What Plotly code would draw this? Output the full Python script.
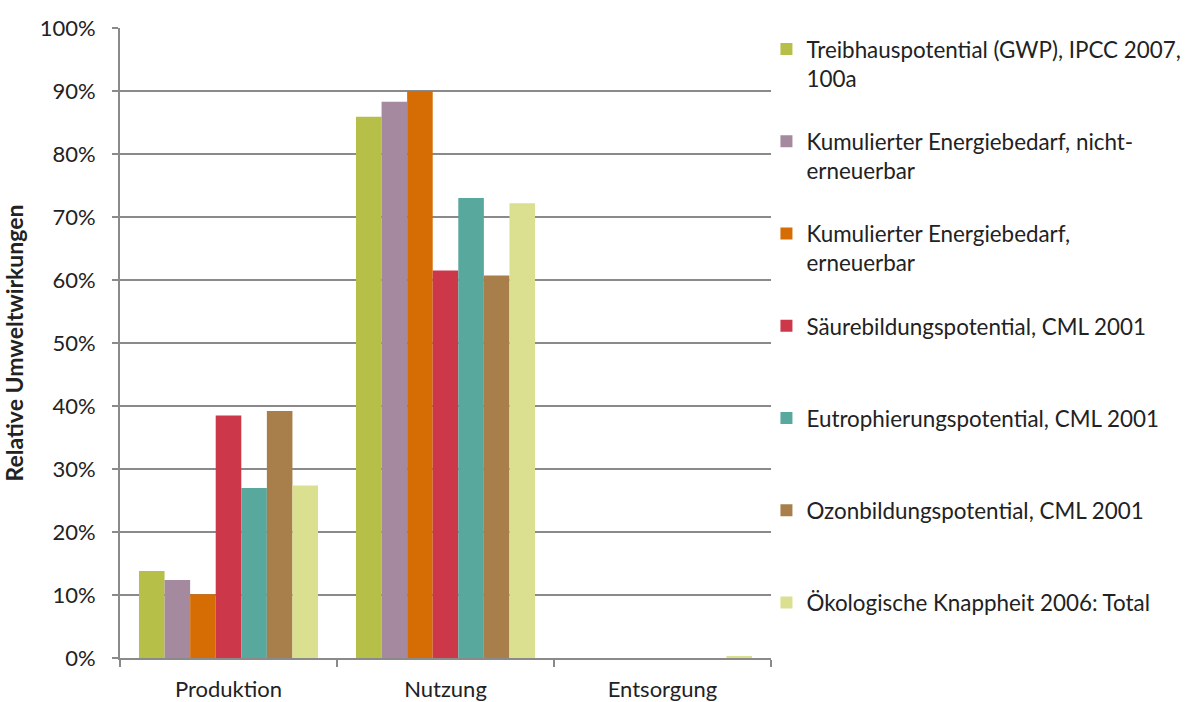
import plotly.graph_objects as go

categories = ["Produktion", "Nutzung", "Entsorgung"]

series_names = [
    "Treibhauspotential (GWP), IPCC 2007,<br>100a",
    "Kumulierter Energiebedarf, nicht-<br>erneuerbar",
    "Kumulierter Energiebedarf,<br>erneuerbar",
    "Säurebildungspotential, CML 2001<br> ",
    "Eutrophierungspotential, CML 2001<br> ",
    "Ozonbildungspotential, CML 2001<br> ",
    "Ökologische Knappheit 2006: Total<br> ",
]

gwp = [13.8, 85.9, 0.0]
kea_ne = [12.4, 88.3, 0.0]
kea_e = [10.1, 90.0, 0.0]
saeure = [38.5, 61.5, 0.0]
eutro = [27.0, 73.0, 0.0]
ozon = [39.2, 60.7, 0.0]
oeko = [27.4, 72.2, 0.3]

series_values = [gwp, kea_ne, kea_e, saeure, eutro, ozon, oeko]

colors = ["#b6bf48", "#a5899f", "#d56d04", "#cc384a", "#58a89e", "#a87f4a", "#dae08f"]

y_ticks = [0, 10, 20, 30, 40, 50, 60, 70, 80, 90, 100]
y_tick_labels = [f"{v}%" for v in y_ticks]

FONT = "Lato, 'Liberation Sans', Arial, sans-serif"
TEXT = "#222222"
GRID = "#8a8a8a"

fig = go.Figure()
for i, (name, vals, col) in enumerate(zip(series_names, series_values, colors)):
    fig.add_trace(go.Bar(
        x=categories, y=vals, name=name,
        marker=dict(color=col, line=dict(width=0)),
        legendgroup=f"g{i}",
    ))

fig.update_layout(
    width=1189, height=702,
    barmode="group",
    bargap=0.175, bargroupgap=0,
    plot_bgcolor="white", paper_bgcolor="white",
    font=dict(family=FONT, color=TEXT, size=22),
    margin=dict(l=120, r=418, t=28, b=44, autoexpand=False),
    showlegend=True,
    legend=dict(
        x=0.993, xanchor="left", xref="paper",
        y=1.0, yanchor="top",
        valign="top",
        tracegroupgap=31,
        itemwidth=30,
        font=dict(family=FONT, size=22.4, color=TEXT),
        bgcolor="rgba(0,0,0,0)",
        traceorder="grouped",
    ),
)

fig.update_yaxes(
    range=[0, 100],
    tickvals=y_ticks, ticktext=y_tick_labels,
    showgrid=True, gridcolor=GRID, gridwidth=2,
    showline=True, linecolor=GRID, linewidth=2,
    ticks="outside", ticklen=6, tickcolor=GRID, tickwidth=2,
    ticklabelstandoff=12,
    tickfont=dict(family=FONT, size=22, color=TEXT),
    zeroline=False,
    title=dict(text="<b>Relative Umweltwirkungen</b>", font=dict(family=FONT, size=23, color=TEXT)),
)

fig.update_xaxes(
    showline=True, linecolor=GRID, linewidth=2,
    ticks="outside", tickson="boundaries", ticklen=7, tickcolor=GRID, tickwidth=2,
    ticklabelstandoff=11,
    tickfont=dict(family=FONT, size=22, color=TEXT),
    showgrid=False,
)

fig.write_html(
    "out.html",
    config={"displayModeBar": False},
    post_script="document.body.style.margin='0';document.body.style.padding='0';",
)
